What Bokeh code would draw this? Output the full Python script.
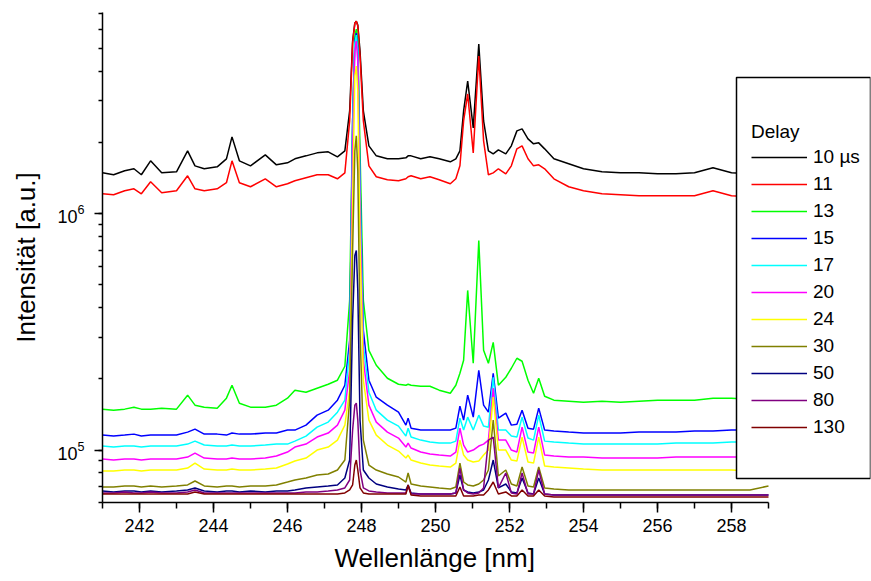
from bokeh.plotting import figure
from bokeh.models import (Range1d, SingleIntervalTicker, LogTicker, Legend,
                          LegendItem, BoxAnnotation, ColumnDataSource, Title)
from bokeh.embed import file_html
from bokeh.resources import INLINE

# ---------------- data ----------------
wavelength = [241.0, 241.3, 241.6, 241.85, 242.05, 242.3, 242.6, 243.0, 243.3, 243.5,
              243.75, 244.1, 244.35, 244.5, 244.7, 245.0, 245.4, 245.7, 246.0, 246.2,
              246.5, 246.8, 247.1, 247.35, 247.55, 247.68, 247.76, 247.82, 247.86, 247.9,
              247.96, 248.05, 248.2, 248.4, 248.7, 249.0, 249.2, 249.26, 249.34, 249.6,
              249.85, 250.1, 250.4, 250.55, 250.66, 250.76, 250.87, 251.02, 251.17, 251.3,
              251.43, 251.56, 251.7, 251.9, 252.05, 252.2, 252.34, 252.5, 252.65, 252.79,
              252.95, 253.2, 253.6, 254.0, 254.5, 255.0, 255.5, 256.0, 256.5, 257.0,
              257.5, 258.0, 258.5, 259.0]

delay_10 = [1.489e6, 1.461e6, 1.519e6, 1.549e6, 1.461e6, 1.674e6, 1.489e6, 1.504e6, 1.845e6, 1.594e6,
            1.549e6, 1.579e6, 1.707e6, 2.114e6, 1.674e6, 1.594e6, 1.774e6, 1.610e6, 1.642e6, 1.707e6,
            1.757e6, 1.809e6, 1.827e6, 1.740e6, 1.845e6, 2.721e6, 5.374e6, 6.401e6, 6.527e6, 6.278e6,
            4.876e6, 2.721e6, 1.937e6, 1.757e6, 1.707e6, 1.707e6, 1.723e6, 1.757e6, 1.757e6, 1.707e6,
            1.740e6, 1.707e6, 1.658e6, 1.707e6, 1.845e6, 2.721e6, 3.643e6, 2.307e6, 5.219e6, 2.469e6,
            1.845e6, 1.792e6, 1.863e6, 1.792e6, 1.937e6, 2.241e6, 2.285e6, 2.073e6, 1.975e6, 1.994e6,
            1.881e6, 1.707e6, 1.626e6, 1.549e6, 1.504e6, 1.489e6, 1.489e6, 1.475e6, 1.475e6, 1.489e6,
            1.564e6, 1.489e6, 1.475e6, 1.461e6]

delay_11 = [1.214e6, 1.203e6, 1.251e6, 1.275e6, 1.214e6, 1.365e6, 1.226e6, 1.251e6, 1.447e6, 1.275e6,
            1.251e6, 1.275e6, 1.352e6, 1.674e6, 1.352e6, 1.300e6, 1.405e6, 1.300e6, 1.339e6, 1.378e6,
            1.419e6, 1.461e6, 1.461e6, 1.405e6, 1.489e6, 2.469e6, 5.270e6, 6.401e6, 6.527e6, 6.217e6,
            4.645e6, 2.469e6, 1.594e6, 1.433e6, 1.392e6, 1.378e6, 1.405e6, 1.433e6, 1.447e6, 1.405e6,
            1.433e6, 1.392e6, 1.339e6, 1.405e6, 1.594e6, 2.469e6, 3.210e6, 1.809e6, 4.645e6, 2.033e6,
            1.461e6, 1.489e6, 1.549e6, 1.475e6, 1.594e6, 1.881e6, 1.937e6, 1.707e6, 1.594e6, 1.610e6,
            1.549e6, 1.405e6, 1.300e6, 1.251e6, 1.214e6, 1.203e6, 1.191e6, 1.191e6, 1.191e6, 1.191e6,
            1.251e6, 1.191e6, 1.180e6, 1.168e6]

delay_13 = [1.490e5, 1.475e5, 1.490e5, 1.519e5, 1.490e5, 1.490e5, 1.504e5, 1.490e5, 1.707e5, 1.549e5,
            1.519e5, 1.504e5, 1.658e5, 1.881e5, 1.579e5, 1.519e5, 1.519e5, 1.549e5, 1.658e5, 1.792e5,
            1.757e5, 1.827e5, 1.899e5, 1.975e5, 2.263e5, 4.297e5, 2.469e6, 5.641e6, 6.039e6, 5.374e6,
            1.845e6, 4.297e5, 2.643e5, 2.285e5, 2.013e5, 1.899e5, 1.881e5, 1.899e5, 1.881e5, 1.863e5,
            1.863e5, 1.792e5, 1.740e5, 1.881e5, 2.114e5, 2.398e5, 4.736e5, 2.329e5, 7.700e5, 2.643e5,
            2.329e5, 2.857e5, 1.881e5, 2.033e5, 2.219e5, 2.446e5, 2.375e5, 1.975e5, 1.740e5, 2.013e5,
            1.690e5, 1.626e5, 1.610e5, 1.594e5, 1.610e5, 1.594e5, 1.610e5, 1.626e5, 1.626e5, 1.626e5,
            1.658e5, 1.658e5, 1.642e5, 1.642e5]

delay_15 = [1.157e5, 1.146e5, 1.157e5, 1.168e5, 1.146e5, 1.157e5, 1.157e5, 1.157e5, 1.191e5, 1.226e5,
            1.168e5, 1.168e5, 1.157e5, 1.180e5, 1.168e5, 1.168e5, 1.180e5, 1.180e5, 1.215e5, 1.215e5,
            1.275e5, 1.405e5, 1.475e5, 1.626e5, 1.881e5, 2.913e5, 2.469e6, 5.374e6, 5.808e6, 5.119e6,
            1.378e6, 3.210e5, 1.975e5, 1.674e5, 1.549e5, 1.447e5, 1.275e5, 1.365e5, 1.238e5, 1.215e5,
            1.215e5, 1.215e5, 1.215e5, 1.238e5, 1.534e5, 1.339e5, 1.707e5, 1.378e5, 2.176e5, 1.549e5,
            1.447e5, 2.114e5, 1.365e5, 1.433e5, 1.275e5, 1.287e5, 1.475e5, 1.238e5, 1.226e5, 1.504e5,
            1.215e5, 1.203e5, 1.191e5, 1.180e5, 1.180e5, 1.180e5, 1.191e5, 1.191e5, 1.191e5, 1.203e5,
            1.203e5, 1.215e5, 1.215e5, 1.215e5]

delay_17 = [1.040e5, 1.030e5, 1.040e5, 1.040e5, 1.030e5, 1.040e5, 1.040e5, 1.040e5, 1.060e5, 1.091e5,
            1.050e5, 1.040e5, 1.040e5, 1.050e5, 1.040e5, 1.040e5, 1.050e5, 1.060e5, 1.060e5, 1.091e5,
            1.146e5, 1.250e5, 1.313e5, 1.447e5, 1.626e5, 2.643e5, 2.241e6, 5.270e6, 5.696e6, 4.876e6,
            1.251e6, 2.775e5, 1.757e5, 1.475e5, 1.339e5, 1.263e5, 1.146e5, 1.238e5, 1.135e5, 1.102e5,
            1.081e5, 1.070e5, 1.070e5, 1.091e5, 1.365e5, 1.215e5, 1.378e5, 1.215e5, 1.405e5, 1.263e5,
            1.250e5, 2.033e5, 1.215e5, 1.215e5, 1.146e5, 1.135e5, 1.378e5, 1.124e5, 1.102e5, 1.405e5,
            1.091e5, 1.081e5, 1.070e5, 1.060e5, 1.060e5, 1.060e5, 1.060e5, 1.060e5, 1.070e5, 1.070e5,
            1.070e5, 1.081e5, 1.081e5, 1.081e5]

delay_20 = [9.163e4, 9.074e4, 9.163e4, 9.163e4, 9.074e4, 9.163e4, 9.163e4, 9.163e4, 9.342e4, 9.712e4,
            9.251e4, 9.163e4, 9.163e4, 9.251e4, 9.163e4, 9.163e4, 9.251e4, 9.433e4, 9.807e4, 1.030e5,
            1.060e5, 1.135e5, 1.180e5, 1.275e5, 1.475e5, 2.176e5, 1.845e6, 4.876e6, 5.374e6, 4.425e6,
            1.030e6, 2.398e5, 1.549e5, 1.313e5, 1.191e5, 1.124e5, 1.030e5, 1.070e5, 1.020e5, 9.807e4,
            9.618e4, 9.525e4, 9.433e4, 9.807e4, 1.238e5, 1.050e5, 9.807e4, 1.000e5, 1.040e5, 1.060e5,
            1.102e5, 1.827e5, 1.102e5, 1.102e5, 1.000e5, 9.807e4, 1.250e5, 9.807e4, 9.712e4, 1.250e5,
            9.525e4, 9.433e4, 9.342e4, 9.342e4, 9.251e4, 9.251e4, 9.251e4, 9.251e4, 9.342e4, 9.342e4,
            9.342e4, 9.342e4, 9.342e4, 9.342e4]

delay_24 = [8.154e4, 8.154e4, 8.234e4, 8.234e4, 8.154e4, 8.234e4, 8.234e4, 8.234e4, 8.396e4, 8.813e4,
            8.315e4, 8.234e4, 8.234e4, 8.315e4, 8.234e4, 8.234e4, 8.315e4, 8.396e4, 8.727e4, 8.986e4,
            9.251e4, 1.000e5, 1.030e5, 1.102e5, 1.275e5, 1.792e5, 1.135e6, 3.824e6, 4.214e6, 3.305e6,
            7.700e5, 1.975e5, 1.339e5, 1.157e5, 1.050e5, 9.903e4, 9.251e4, 9.525e4, 9.074e4, 8.813e4,
            8.643e4, 8.561e4, 8.477e4, 8.813e4, 1.102e5, 9.525e4, 9.074e4, 8.899e4, 8.986e4, 9.525e4,
            1.000e5, 1.674e5, 1.000e5, 1.000e5, 9.074e4, 8.986e4, 1.135e5, 8.899e4, 8.813e4, 1.135e5,
            8.561e4, 8.477e4, 8.396e4, 8.315e4, 8.234e4, 8.234e4, 8.234e4, 8.234e4, 8.234e4, 8.234e4,
            8.234e4, 8.234e4, 8.154e4, 8.154e4]

delay_30 = [6.981e4, 6.981e4, 7.049e4, 7.049e4, 6.981e4, 7.049e4, 6.981e4, 7.049e4, 7.118e4, 7.398e4,
            7.049e4, 6.981e4, 7.049e4, 7.049e4, 6.981e4, 7.049e4, 7.049e4, 7.118e4, 7.326e4, 7.470e4,
            7.617e4, 7.843e4, 7.919e4, 8.234e4, 9.074e4, 1.626e5, 6.987e5, 1.845e6, 2.134e6, 1.519e6,
            3.210e5, 1.102e5, 8.643e4, 8.234e4, 7.919e4, 7.692e4, 7.326e4, 7.997e4, 7.185e4, 7.049e4,
            6.981e4, 6.914e4, 6.847e4, 6.981e4, 8.813e4, 7.326e4, 7.118e4, 7.049e4, 7.185e4, 7.470e4,
            8.234e4, 1.339e5, 7.767e4, 8.234e4, 7.185e4, 7.049e4, 8.478e4, 7.049e4, 6.981e4, 8.478e4,
            6.914e4, 6.847e4, 6.780e4, 6.780e4, 6.780e4, 6.780e4, 6.780e4, 6.780e4, 6.780e4, 6.780e4,
            6.780e4, 6.780e4, 6.780e4, 7.049e4]

delay_50 = [6.714e4, 6.649e4, 6.714e4, 6.714e4, 6.649e4, 6.714e4, 6.649e4, 6.714e4, 6.780e4, 6.914e4,
            6.714e4, 6.649e4, 6.714e4, 6.714e4, 6.649e4, 6.714e4, 6.649e4, 6.714e4, 6.714e4, 6.780e4,
            6.914e4, 6.981e4, 7.049e4, 7.118e4, 7.617e4, 9.074e4, 3.538e5, 6.655e5, 6.987e5, 4.736e5,
            1.339e5, 8.234e4, 7.617e4, 7.185e4, 6.981e4, 6.847e4, 6.780e4, 7.118e4, 6.585e4, 6.521e4,
            6.521e4, 6.521e4, 6.521e4, 6.585e4, 7.843e4, 6.780e4, 6.649e4, 6.585e4, 6.649e4, 6.780e4,
            7.470e4, 9.074e4, 6.914e4, 7.185e4, 6.649e4, 6.585e4, 7.617e4, 6.585e4, 6.521e4, 7.617e4,
            6.521e4, 6.458e4, 6.458e4, 6.458e4, 6.458e4, 6.458e4, 6.458e4, 6.458e4, 6.458e4, 6.458e4,
            6.458e4, 6.458e4, 6.458e4, 6.458e4]

delay_80 = [6.585e4, 6.585e4, 6.649e4, 6.585e4, 6.585e4, 6.649e4, 6.585e4, 6.585e4, 6.649e4, 6.780e4,
            6.585e4, 6.585e4, 6.585e4, 6.585e4, 6.585e4, 6.585e4, 6.585e4, 6.585e4, 6.585e4, 6.585e4,
            6.649e4, 6.649e4, 6.714e4, 6.780e4, 6.914e4, 7.470e4, 1.215e5, 1.549e5, 1.579e5, 1.339e5,
            8.234e4, 6.914e4, 6.714e4, 6.649e4, 6.585e4, 6.585e4, 6.585e4, 7.049e4, 6.521e4, 6.521e4,
            6.521e4, 6.521e4, 6.521e4, 6.585e4, 8.396e4, 6.780e4, 6.585e4, 6.521e4, 6.585e4, 6.914e4,
            1.102e5, 1.135e5, 6.914e4, 7.997e4, 6.585e4, 6.521e4, 7.997e4, 6.521e4, 6.521e4, 8.234e4,
            6.521e4, 6.458e4, 6.458e4, 6.458e4, 6.458e4, 6.458e4, 6.458e4, 6.458e4, 6.458e4, 6.458e4,
            6.458e4, 6.458e4, 6.458e4, 6.458e4]

delay_130 = [6.521e4, 6.521e4, 6.521e4, 6.521e4, 6.521e4, 6.521e4, 6.521e4, 6.521e4, 6.521e4, 6.649e4,
             6.521e4, 6.521e4, 6.521e4, 6.521e4, 6.521e4, 6.521e4, 6.521e4, 6.521e4, 6.521e4, 6.521e4,
             6.521e4, 6.521e4, 6.521e4, 6.521e4, 6.585e4, 6.780e4, 7.118e4, 8.643e4, 9.074e4, 8.234e4,
             6.914e4, 6.585e4, 6.521e4, 6.521e4, 6.521e4, 6.521e4, 6.521e4, 7.118e4, 6.458e4, 6.396e4,
             6.396e4, 6.396e4, 6.396e4, 6.396e4, 6.981e4, 6.396e4, 6.396e4, 6.396e4, 6.458e4, 6.458e4,
             6.780e4, 7.326e4, 6.521e4, 6.649e4, 6.396e4, 6.396e4, 6.780e4, 6.396e4, 6.396e4, 6.780e4,
             6.396e4, 6.334e4, 6.334e4, 6.334e4, 6.334e4, 6.334e4, 6.334e4, 6.334e4, 6.334e4, 6.334e4,
             6.334e4, 6.334e4, 6.334e4, 6.334e4]

series_labels = ["10 µs", "11", "13", "15", "17", "20", "24", "30", "50", "80", "130"]
series_values = [delay_10, delay_11, delay_13, delay_15, delay_17, delay_20,
                 delay_24, delay_30, delay_50, delay_80, delay_130]
series_colors = ["#000000", "#FF0000", "#00FF00", "#0000FF", "#00FFFF", "#FF00FF",
                 "#FFFF00", "#808000", "#000080", "#800080", "#800000"]

FONT = "Liberation Sans"

# ---------------- figure ----------------
# plot frame spans to the right edge so the legend box is not clipped;
# the x axis itself is bounded to 241..259 nm
p = figure(width=871, height=581,
           x_range=Range1d(241, 261.757), y_range=Range1d(6.0e4, 7.1e6),
           y_axis_type="log", output_backend="svg", toolbar_location=None,
           min_border_left=102, min_border_right=1,
           min_border_top=12, min_border_bottom=79)
p.outline_line_color = None
p.xgrid.visible = False
p.ygrid.visible = False
p.background_fill_color = "white"
p.border_fill_color = "white"

renderers = []
for lab, vals, col in zip(series_labels, series_values, series_colors):
    src = ColumnDataSource(dict(x=wavelength, y=vals))
    r = p.line("x", "y", source=src, line_color=col, line_width=1.5)
    renderers.append(r)

# x axis
p.xaxis.bounds = (241, 259)
p.xaxis.ticker = SingleIntervalTicker(interval=2, num_minor_ticks=2)
p.xaxis.major_tick_out = 10
p.xaxis.major_tick_in = 0
p.xaxis.minor_tick_out = 6
p.xaxis.minor_tick_in = 0
p.xaxis.major_label_standoff = 6

# y axis
p.yaxis.ticker = LogTicker(num_minor_ticks=10)
p.yaxis.axis_label = "Intensität [a.u.]"
p.yaxis.major_tick_out = 8
p.yaxis.major_tick_in = 0
p.yaxis.minor_tick_out = 4
p.yaxis.minor_tick_in = 0
p.yaxis.major_label_standoff = 10
p.yaxis.axis_label_standoff = 13

for ax in (p.xaxis, p.yaxis):
    ax.axis_line_width = 1.5
    ax.axis_line_color = "black"
    ax.major_tick_line_width = 1.5
    ax.minor_tick_line_width = 1.5
    ax.major_tick_line_color = "black"
    ax.minor_tick_line_color = "black"
    ax.major_label_text_font = FONT
    ax.major_label_text_font_size = "18px"
    ax.major_label_text_color = "black"
    ax.axis_label_text_font = FONT
    ax.axis_label_text_font_size = "26px"
    ax.axis_label_text_font_style = "normal"
    ax.axis_label_text_color = "black"

# x axis title, centred under the bounded axis (241..259)
xtitle = Title(text="Wellenlänge [nm]", align="left", offset=232,
               standoff=12, vertical_align="bottom",
               text_font=FONT, text_font_size="26px",
               text_font_style="normal", text_color="black")
p.add_layout(xtitle, "below")

# legend frame
box = BoxAnnotation(left=736, right=870, top=77, bottom=478,
                    left_units="canvas", right_units="canvas",
                    top_units="canvas", bottom_units="canvas",
                    fill_color="white", fill_alpha=1.0,
                    line_color="black", line_alpha=1.0, line_width=1.5,
                    level="annotation")
p.add_layout(box)

items = [LegendItem(label=lab, renderers=[r]) for lab, r in zip(series_labels, renderers)]
legend = Legend(items=items, location=(649, 64), title="Delay",
                title_text_font=FONT, title_text_font_size="19px",
                title_text_font_style="normal", title_text_color="black",
                title_standoff=3,
                label_text_font=FONT, label_text_font_size="19px",
                label_text_color="black",
                glyph_width=56, glyph_height=22, label_height=22,
                spacing=5, label_standoff=6, padding=0, margin=0,
                border_line_alpha=0, background_fill_alpha=0)
p.add_layout(legend)

open("out.html", "w").write(file_html(p, INLINE))
